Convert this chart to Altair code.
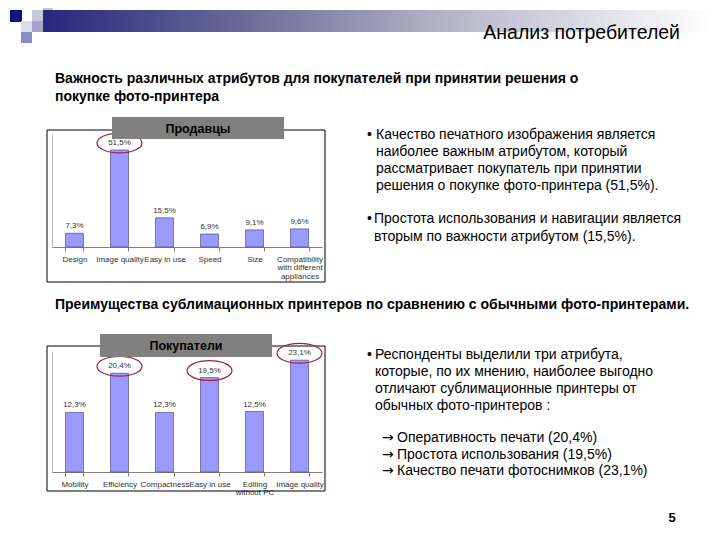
import altair as alt
import pandas as pd

# ---------------- data ----------------
sellers_cats = ["Design", "Image quality", "Easy in use", "Speed", "Size",
                "Compatibility|with different|appliances"]
sellers_vals = [7.3, 51.5, 15.5, 6.9, 9.1, 9.6]
sellers_hl = ["Image quality"]

buyers_cats = ["Mobility", "Efficiency", "Compactness", "Easy in use",
               "Editing|without PC", "Image quality"]
buyers_vals = [12.3, 20.4, 12.3, 19.5, 12.5, 23.1]
buyers_hl = ["Efficiency", "Easy in use", "Image quality"]

header_title = "Анализ потребителей"
subtitle1 = ["Важность различных атрибутов для покупателей при принятии решения о",
             "покупке фото-принтера"]
subtitle2 = ["Преимущества сублимационных принтеров по сравнению с обычными фото-принтерами."]
panel1_title = "Продавцы"
panel2_title = "Покупатели"
block1 = ["Качество печатного изображения является",
          "наиболее важным атрибутом, который",
          "рассматривает покупатель при принятии",
          "решения о покупке фото-принтера (51,5%)."]
block2 = ["Простота использования и навигации является",
          "вторым по важности атрибутом (15,5%)."]
block3 = ["Респонденты выделили три атрибута,",
          "которые, по их мнению, наиболее выгодно",
          "отличают сублимационные принтеры от",
          "обычных фото-принтеров :"]
arrows = ["→", "→", "→"]
block4 = ["Оперативность печати (20,4%)",
          "Простота использования (19,5%)",
          "Качество печати фотоснимков (23,1%)"]
page_no = "5"

FONT = "Liberation Sans"
one = pd.DataFrame({"k": [0]})
ELLIPSE = "M-1,0A1,0.44,0,1,1,1,0A1,0.44,0,1,1,-1,0Z"


def rect(x, y, x2, y2, **kw):
    return alt.Chart(one).mark_rect(**kw).encode(
        x=alt.value(x), x2=alt.value(x2), y=alt.value(y), y2=alt.value(y2))


def text(lines, x, y, **kw):
    opts = dict(font=FONT, align="left", baseline="alphabetic", color="black")
    opts.update(kw)
    return alt.Chart(one).mark_text(text=lines, **opts).encode(
        x=alt.value(x), y=alt.value(y))


def panel(cats, vals, hl, y_max, base_px, top_px, axis_off):
    df = pd.DataFrame({"cat": cats, "val": vals})
    df["lbl"] = [f"{v:.1f}".replace(".", ",") + "%" for v in vals]
    df["hl"] = [c in hl for c in cats]
    xs = alt.Scale(domain=cats, range=[44, 314], paddingInner=0.6, paddingOuter=0.3)
    ys = alt.Scale(domain=[0, y_max], range=[base_px, top_px], nice=False)
    x_axis = alt.Axis(orient="bottom", offset=axis_off, title=None, labelAngle=0,
                      labelExpr="split(datum.label, '|')", tickBand="extent",
                      domainColor="#808080", tickColor="#808080", tickSize=4,
                      labelFontSize=8, labelColor="#333333", labelPadding=4,
                      labelFont=FONT, labelLineHeight=8.5, labelOverlap=False,
                      labelBaseline="top", grid=False)
    y_axis = alt.Axis(orient="left", offset=-44, title=None, labels=False,
                      ticks=False, grid=False, domainColor="#b8b8b8")
    x = alt.X("cat:N", scale=xs, axis=x_axis, sort=cats)
    y = alt.Y("val:Q", scale=ys, axis=y_axis)
    base = alt.Chart(df)
    bars = base.mark_bar(color="#9999FF", stroke="#3a3a7a", strokeWidth=0.6).encode(x=x, y=y)
    labels = base.mark_text(font=FONT, fontSize=8, color="#333333", baseline="bottom",
                            dy=-3).encode(x=x, y=y, text="lbl:N")
    ell = base.transform_filter("datum.hl").mark_point(
        shape=ELLIPSE, size=2025, filled=False, stroke="#a0203c", strokeWidth=1.2,
        opacity=1, yOffset=-7).encode(x=x, y=y)
    return alt.layer(bars, labels, ell)


# ---------------- decorations ----------------
grad = alt.LinearGradient(
    gradient="linear", x1=0, x2=1, y1=0, y2=0,
    stops=[alt.GradientStop(color="#27277d", offset=0),
           alt.GradientStop(color="#6a6a98", offset=0.3),
           alt.GradientStop(color="#b4b4c8", offset=0.6),
           alt.GradientStop(color="#ffffff", offset=1)])
band = rect(35, 2, 704, 24, fill=grad)
squares = [
    rect(2, 2, 14, 14, fill="#14147a"),
    rect(35, -8, 45, 2, fill="#c4c4dc"),
    rect(24, 2, 35, 13, fill="#c8c8dc"),
    rect(13, 13, 24, 24, fill="#dcdcf0"),
    rect(24, 13, 35, 24, fill="#a4a4cc"),
    rect(13, 24, 24, 35, fill="#8c8cc4"),
]

# chart frames
frame1 = rect(39, 122, 317, 274, fillOpacity=0, stroke="black", strokeWidth=1)
frame2 = rect(39, 338, 317, 483, fillOpacity=0, stroke="black", strokeWidth=1)
tbox1 = rect(104, 109, 276, 131, fill="#808080")
tbox2 = rect(92, 326, 264, 349, fill="#808080")
ttl1 = text([panel1_title], 190, 125, align="center", fontSize=12.5, fontWeight="bold")
ttl2 = text([panel2_title], 178, 342, align="center", fontSize=12.5, fontWeight="bold")

p1 = panel(sellers_cats, sellers_vals, sellers_hl, 60, 239, 126, -285)
p2 = panel(buyers_cats, buyers_vals, buyers_hl, 25, 464, 343, -60)

texts = [
    text([header_title], 672, 31, align="right", fontSize=19.5),
    text(subtitle1, 47, 75, fontSize=14, fontWeight="bold", lineHeight=18),
    text(subtitle2, 47, 301, fontSize=14, fontWeight="bold"),
    text(["•"], 359, 131, fontSize=14),
    text(block1, 368, 131, fontSize=14, lineHeight=17),
    text(["•"], 359, 215, fontSize=14),
    text(block2, 366, 215, fontSize=14, lineHeight=17.5),
    text(["•"], 359, 351, fontSize=14),
    text(block3, 367, 351, fontSize=14, lineHeight=17),
    text(arrows, 374, 434, fontSize=14, lineHeight=16.5, font="DejaVu Sans"),
    text(block4, 389, 434, fontSize=14, lineHeight=16.5),
    text([page_no], 664, 514, align="center", fontSize=13, fontWeight="bold"),
]

chart = alt.layer(
    band, *squares, frame1, frame2, p1, p2, tbox1, tbox2, ttl1, ttl2, *texts
).resolve_scale(x="independent", y="independent").resolve_axis(
    x="independent", y="independent"
).properties(
    width=704, height=524, padding=0, autosize="none", background="white"
).configure_view(stroke=None)

chart.save("out.html", embed_options={"renderer": "svg", "actions": False})
